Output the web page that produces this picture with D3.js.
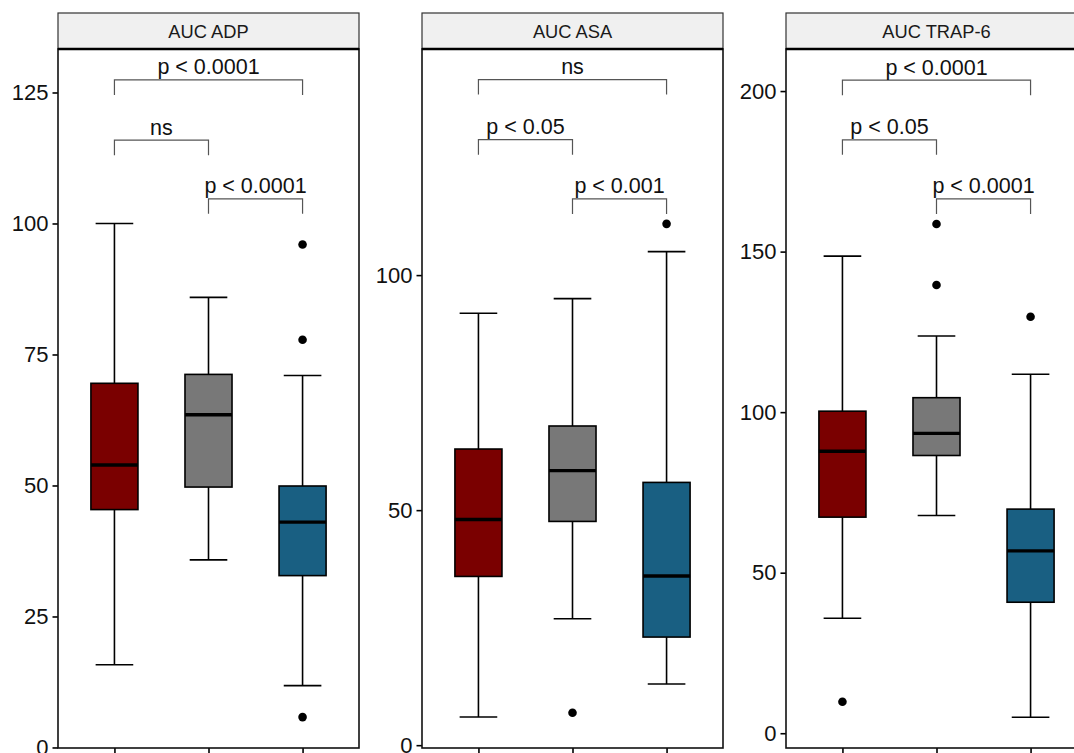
<!DOCTYPE html>
<html>
<head>
<meta charset="utf-8">
<script src="https://cdn.jsdelivr.net/npm/d3@7"></script>
<style>
  html, body { margin: 0; padding: 0; background: #fff; }
  svg { display: block; font-family: "Liberation Sans", Arial, Helvetica, sans-serif; }
</style>
</head>
<body>
<svg id="chart" width="1074" height="753"></svg>
<script>
// Groups compared within each assay (x positions inside a facet)
const groups = ["Group A", "Group B", "Group C"];
const groupColors = ["#7a0000", "#787878", "#195f82"];

// Facet titles
const facets = ["AUC ADP", "AUC ASA", "AUC TRAP-6"];

// Five-number summaries per facet, per group: [lower whisker, Q1, median, Q3, upper whisker]
const statsADP   = [[15.8, 45.4, 53.9, 69.5, 100.0], [35.8, 49.7, 63.5, 71.2, 85.9], [11.8, 32.8, 43.0, 49.9, 71.0]];
const statsASA   = [[6.0, 35.9, 48.0, 63.0, 91.9],   [26.9, 47.6, 58.4, 67.9, 95.0], [13.0, 23.0, 36.0, 55.9, 105.0]];
const statsTRAP6 = [[35.8, 67.3, 87.8, 100.3, 148.6], [67.8, 86.5, 93.4, 104.5, 123.7], [5.0, 40.8, 56.8, 69.8, 111.8]];

// Outlying observations per facet, per group
const outADP   = [[], [], [96.0, 77.8, 5.8]];
const outASA   = [[], [6.9], [110.9]];
const outTRAP6 = [[9.8], [158.6, 139.6], [129.7]];

// Y-axis limits and tick values per facet
const domainADP   = [-0.1, 133.3];
const domainASA   = [-0.6, 148.1];
const domainTRAP6 = [-4.6, 213.1];
const ticksADP   = [0, 25, 50, 75, 100, 125];
const ticksASA   = [0, 50, 100];
const ticksTRAP6 = [0, 50, 100, 150, 200];

// Pairwise comparison brackets: [from group, to group, bracket height, label]
const compADP   = [[0, 2, 127.4, "p < 0.0001"], [0, 1, 115.9, "ns"],       [1, 2, 104.7, "p < 0.0001"]];
const compASA   = [[0, 2, 141.6, "ns"],         [0, 1, 128.8, "p < 0.05"], [1, 2, 116.2, "p < 0.001"]];
const compTRAP6 = [[0, 2, 203.4, "p < 0.0001"], [0, 1, 184.8, "p < 0.05"], [1, 2, 166.4, "p < 0.0001"]];

const panels = [
  { title: facets[0], stats: statsADP,   outliers: outADP,   domain: domainADP,   ticks: ticksADP,   comps: compADP },
  { title: facets[1], stats: statsASA,   outliers: outASA,   domain: domainASA,   ticks: ticksASA,   comps: compASA },
  { title: facets[2], stats: statsTRAP6, outliers: outTRAP6, domain: domainTRAP6, ticks: ticksTRAP6, comps: compTRAP6 }
];

// Layout
const svg = d3.select("#chart");
const firstLeft = 58, panelW = 301, panelGap = 63;
const stripTop = 13, stripH = 36;
const plotTop = stripTop + stripH, plotBottom = 748;
const tipPx = 15;
const lw = 1.6;

panels.forEach((p, i) => {
  const left = firstLeft + i * (panelW + panelGap);
  const right = left + panelW;
  const g = svg.append("g");

  const x = d3.scalePoint().domain(d3.range(groups.length)).range([left, right]).padding(0.6);
  const step = x.step();
  const y = d3.scaleLinear().domain(p.domain).range([plotBottom, plotTop]);

  // Strip
  g.append("rect")
    .attr("x", left).attr("y", stripTop).attr("width", panelW).attr("height", stripH)
    .attr("fill", "#f0f0f0").attr("stroke", "#333").attr("stroke-width", 1.2);
  g.append("text")
    .attr("x", (left + right) / 2).attr("y", stripTop + stripH / 2 + 6.5)
    .attr("text-anchor", "middle").attr("font-size", 18.3).attr("fill", "#1a1a1a")
    .text(p.title);

  // Y axis
  const yAxis = d3.axisLeft(y).tickValues(p.ticks).tickSize(5.5).tickPadding(4).tickFormat(d3.format("d"));
  const ya = g.append("g").attr("transform", `translate(${left},0)`).call(yAxis);
  ya.select(".domain").remove();
  ya.selectAll(".tick line").attr("stroke", "#000").attr("stroke-width", lw);
  ya.selectAll(".tick text").attr("font-size", 22).attr("fill", "#111")
    .attr("font-family", "'Liberation Sans', Arial, sans-serif");

  // X axis ticks (bottom)
  const xAxis = d3.axisBottom(x).tickSize(7).tickFormat("");
  const xa = g.append("g").attr("transform", `translate(0,${plotBottom})`).call(xAxis);
  xa.select(".domain").remove();
  xa.selectAll(".tick line").attr("stroke", "#000").attr("stroke-width", lw);

  // Boxes
  const boxW = step * 0.5, capW = step * 0.4;
  p.stats.forEach((s, k) => {
    const cx = x(k);
    const [lo, q1, med, q3, hi] = s;
    // whiskers
    g.append("line").attr("x1", cx).attr("x2", cx).attr("y1", y(q3)).attr("y2", y(hi))
      .attr("stroke", "#000").attr("stroke-width", lw);
    g.append("line").attr("x1", cx).attr("x2", cx).attr("y1", y(q1)).attr("y2", y(lo))
      .attr("stroke", "#000").attr("stroke-width", lw);
    [lo, hi].forEach(v => {
      g.append("line").attr("x1", cx - capW / 2).attr("x2", cx + capW / 2).attr("y1", y(v)).attr("y2", y(v))
        .attr("stroke", "#000").attr("stroke-width", lw);
    });
    // box
    g.append("rect").attr("x", cx - boxW / 2).attr("y", y(q3)).attr("width", boxW).attr("height", y(q1) - y(q3))
      .attr("fill", groupColors[k]).attr("stroke", "#000").attr("stroke-width", lw);
    // median
    g.append("line").attr("x1", cx - boxW / 2).attr("x2", cx + boxW / 2).attr("y1", y(med)).attr("y2", y(med))
      .attr("stroke", "#000").attr("stroke-width", 3.4);
    // outliers
    p.outliers[k].forEach(v => {
      g.append("circle").attr("cx", cx).attr("cy", y(v)).attr("r", 4.3).attr("fill", "#000");
    });
  });

  // Comparison brackets
  p.comps.forEach(([a, b, h, label]) => {
    const yy = y(h);
    g.append("path")
      .attr("d", `M${x(a)},${yy + tipPx}V${yy}H${x(b)}V${yy + tipPx}`)
      .attr("fill", "none").attr("stroke", "#555").attr("stroke-width", 1.2);
    g.append("text")
      .attr("x", (x(a) + x(b)) / 2).attr("y", yy - 5.5)
      .attr("text-anchor", "middle").attr("font-size", 21.5).attr("fill", "#111")
      .text(label);
  });

  // Panel border
  g.append("rect")
    .attr("x", left).attr("y", plotTop).attr("width", panelW).attr("height", plotBottom - plotTop)
    .attr("fill", "none").attr("stroke", "#111").attr("stroke-width", lw);
  g.append("line").attr("x1", left).attr("x2", right).attr("y1", plotTop).attr("y2", plotTop)
    .attr("stroke", "#000").attr("stroke-width", 2.6);
});
</script>
</body>
</html>
